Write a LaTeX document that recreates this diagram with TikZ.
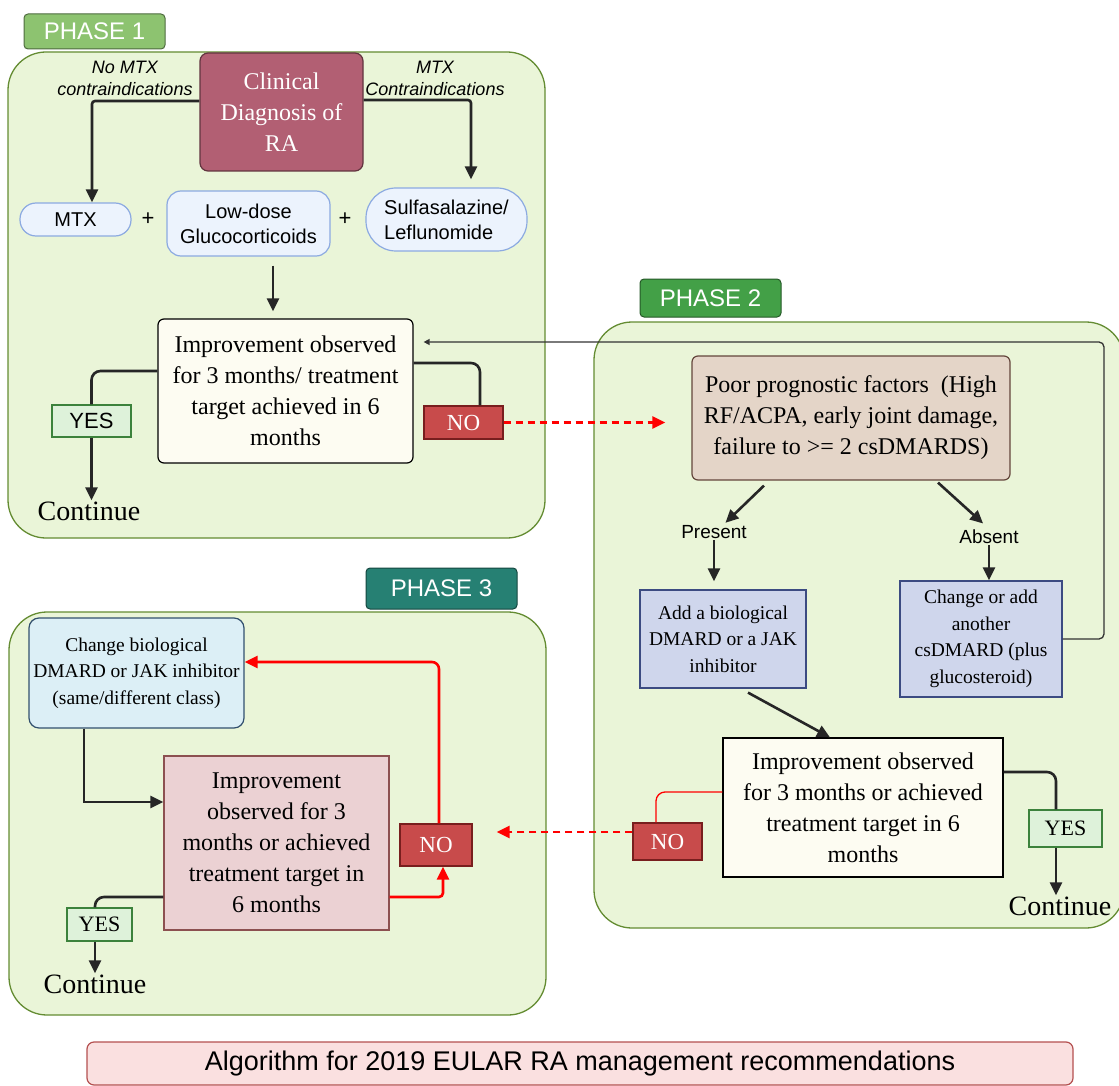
\documentclass[tikz,border=0pt]{standalone}
\usepackage{fontspec}
\setmainfont{Liberation Serif}
\setsansfont{Liberation Sans}
\usepackage{tikz}
\usetikzlibrary{arrows.meta, positioning}
\definecolor{panelfill}{RGB}{234,245,216}
\definecolor{panelline}{RGB}{100,140,50}
\definecolor{phaseone}{RGB}{141,195,112}
\definecolor{phasetwo}{RGB}{67,160,71}
\definecolor{phasethree}{RGB}{38,128,115}
\definecolor{diagcolor}{RGB}{178,95,115}
\definecolor{drugcolor}{RGB}{236,243,253}
\definecolor{drugline}{RGB}{140,170,225}
\definecolor{askcolor}{RGB}{253,252,242}
\definecolor{yescolor}{RGB}{222,242,218}
\definecolor{yesline}{RGB}{60,130,60}
\definecolor{nocolor}{RGB}{200,75,75}
\definecolor{noline}{RGB}{120,30,30}
\definecolor{poorcolor}{RGB}{228,213,200}
\definecolor{poorline}{RGB}{100,70,60}
\definecolor{bdmardcolor}{RGB}{207,214,236}
\definecolor{bdmardline}{RGB}{60,75,130}
\definecolor{switchcolor}{RGB}{220,239,246}
\definecolor{switchline}{RGB}{50,80,110}
\definecolor{retrycolor}{RGB}{235,209,211}
\definecolor{retryline}{RGB}{140,80,80}
\definecolor{titlecolor}{RGB}{250,224,224}
\definecolor{titleline}{RGB}{180,80,80}

\begin{document}
\begin{tikzpicture}[
    x=1pt, y=-1pt,
    panel/.style={draw=panelline, fill=panelfill, line width=1.3pt, rounded corners=38pt},
    phasetab/.style={fill=#1, draw=#1!55!black, line width=1pt, rounded corners=4pt, text=white, font=\sffamily\fontsize{24}{28}\selectfont, inner sep=0pt},
    serifbox/.style={draw, line width=1.2pt, align=center, inner sep=0pt, font=\fontsize{24}{31}\selectfont},
    smallbox/.style={serifbox, font=\fontsize{19.5}{26.5}\selectfont},
    drugbox/.style={draw=drugline, fill=drugcolor, line width=1.2pt, align=center, inner sep=0pt, font=\sffamily\fontsize{20}{25}\selectfont},
    yesbox/.style={draw=yesline, fill=yescolor, line width=1.2pt, inner sep=0pt, font=\fontsize{22}{26}\selectfont},
    nobox/.style={draw=noline, fill=nocolor, line width=1.2pt, inner sep=0pt, text=white, font=\fontsize{23}{26}\selectfont},
    sidenote/.style={font=\sffamily\itshape\fontsize{18}{22}\selectfont, align=center, inner sep=1pt},
    branch/.style={font=\sffamily\fontsize{19}{22}\selectfont, inner sep=1pt},
    goon/.style={font=\fontsize{28}{32}\selectfont, inner sep=1pt},
    flow/.style={line width=2.6pt, black!85},
    arrow/.style={flow, -{Triangle[length=13pt,width=12pt]}},
    thinarrow/.style={line width=1.3pt, black!80, -{Triangle[length=6pt,width=6pt]}},
    redline/.style={line width=1.3pt, red},
    redarrow/.style={line width=2.6pt, red, -{Triangle[length=13pt,width=12pt]}},
    reddash/.style={redarrow, dash pattern=on 7pt off 5pt}
]
    \useasboundingbox (0,0) rectangle (1119,1086);

    \draw[panel] (8,52) rectangle (545,538);
    \draw[panel] (594,322) rectangle (1124,928);
    \draw[panel] (9,612) rectangle (546,1015);

    \node[phasetab=phaseone, minimum width=141pt, minimum height=35pt] (tab1) at (94.5,31.5) {PHASE 1};
    \node[phasetab=phasetwo, minimum width=141pt, minimum height=38pt] (tab2) at (710.5,298) {PHASE 2};
    \node[phasetab=phasethree, minimum width=151pt, minimum height=41pt] (tab3) at (441.5,588.5) {PHASE 3};

    \node[serifbox, fill=diagcolor, draw=diagcolor!55!black, text=white, rounded corners=8pt, minimum width=163pt, minimum height=118pt] (diag) at (281.5,112) {Clinical\\Diagnosis of\\RA};
    \node[sidenote] (nomtx) at (125,78) {No MTX\\contraindications};
    \node[sidenote] (yesmtx) at (435,78) {MTX\\Contraindications};

    \node[drugbox, rounded corners=16pt, minimum width=111pt, minimum height=33pt] (mtx) at (75.5,219.5) {MTX};
    \node[font=\sffamily\fontsize{22}{24}\selectfont] (plusa) at (148,219) {+};
    \node[drugbox, rounded corners=14pt, minimum width=163pt, minimum height=65pt] (lowdose) at (248.5,223.5) {Low-dose\\Glucocorticoids};
    \node[font=\sffamily\fontsize{22}{24}\selectfont] (plusb) at (345,219) {+};
    \node[drugbox, align=left, rounded corners=30pt, minimum width=161pt, minimum height=63pt] (sulfa) at (446.5,219.5) {Sulfasalazine/\\Leflunomide};

    \node[serifbox, fill=askcolor, rounded corners=6pt, minimum width=255pt, minimum height=144pt] (imp1) at (285.5,391) {Improvement observed\\for 3 months/ treatment\\target achieved in 6\\months};
    \node[yesbox, font=\sffamily\fontsize{22}{26}\selectfont, minimum width=79pt, minimum height=32pt] (yes1) at (91.5,421) {YES};
    \node[nobox, minimum width=79pt, minimum height=33pt] (no1) at (463.5,422.5) {NO};
    \node[goon] (cont1) at (89,511) {Continue};

    \node[serifbox, fill=poorcolor, draw=poorline, rounded corners=6pt, minimum width=318pt, minimum height=124pt] (poor) at (851,418) {Poor prognostic factors~ (High\\RF/ACPA, early joint damage,\\failure to >= 2 csDMARDS)};
    \node[branch] (present) at (714,532) {Present};
    \node[branch] (absent) at (989,537) {Absent};
    \node[smallbox, fill=bdmardcolor, draw=bdmardline, minimum width=166pt, minimum height=98pt] (addbio) at (723,639) {Add a biological\\DMARD or a JAK\\inhibitor};
    \node[smallbox, fill=bdmardcolor, draw=bdmardline, minimum width=162pt, minimum height=116pt] (chg) at (981,639) {Change or add\\another\\csDMARD (plus\\glucosteroid)};
    \node[serifbox, fill=askcolor, minimum width=280pt, minimum height=139pt] (imp2) at (863,807.5) {Improvement observed\\for 3 months or achieved\\treatment target in 6\\months};
    \node[yesbox, minimum width=73pt, minimum height=37pt] (yes2) at (1065.5,828.5) {YES};
    \node[nobox, minimum width=69pt, minimum height=37pt] (no2) at (667.5,841.5) {NO};
    \node[goon] (cont2) at (1060,906) {Continue};

    \node[smallbox, fill=switchcolor, draw=switchline, rounded corners=10pt, minimum width=215pt, minimum height=110pt] (chgbio) at (136.5,673) {Change biological\\DMARD or JAK inhibitor\\(same/different class)};
    \node[serifbox, fill=retrycolor, draw=retryline, minimum width=225pt, minimum height=174pt] (imp3) at (276.5,843) {Improvement\\observed for 3\\months or achieved\\treatment target in\\6 months};
    \node[nobox, minimum width=72pt, minimum height=42pt] (no3) at (436,845) {NO};
    \node[yesbox, minimum width=65pt, minimum height=33pt] (yes3) at (99.5,924.5) {YES};
    \node[goon] (cont3) at (95,984) {Continue};

    \node[draw=titleline, fill=titlecolor, rounded corners=7pt, line width=1.2pt, minimum width=986pt, minimum height=43pt, font=\sffamily\fontsize{27}{30}\selectfont] (title) at (580,1063.5) {Algorithm for 2019 EULAR RA management recommendations};

    \coordinate (ld) at ([xshift=-12.5pt]imp1.north);
    \coordinate (fbturn) at (1104,342);
    \coordinate (no2in) at ([yshift=9.5pt]no2.west);
    \coordinate (yes2out) at ([xshift=-9.5pt]yes2.south);
    \coordinate (yes3out) at ([xshift=-4.5pt]yes3.south);

    \draw[arrow, rounded corners=3pt] ([yshift=11pt]diag.west) -| ([xshift=16.5pt]mtx.north);
    \draw[arrow, rounded corners=3pt, shorten >=8pt] ([yshift=12pt]diag.east) -| ([xshift=24.5pt]sulfa.north);
    \draw[arrow, shorten <=9pt, shorten >=7pt] (lowdose.south -| ld) -- (ld);
    \draw[flow, rounded corners=9pt] ([yshift=20pt]imp1.west) -| (yes1.north);
    \draw[arrow] (yes1.south) -- (yes1.south |- cont1.north);
    \draw[flow, rounded corners=9pt] ([yshift=28pt]imp1.east) -| ([xshift=16.5pt]no1.north);
    \draw[reddash, shorten >=26pt] (no1.east) -- (no1.east -| poor.west);

    \draw[thinarrow, rounded corners=5pt] (chg.east) -| (fbturn) -- ([xshift=10pt,yshift=49pt]imp1.east);
    \draw[arrow, shorten >=2pt] ([xshift=-87pt,yshift=-5pt]poor.south) -- ([xshift=10pt]present.north);
    \draw[arrow, shorten >=8pt] ([xshift=87pt,yshift=-2pt]poor.south) -- (absent.north);
    \draw[arrow, shorten >=8pt] (present.south) -- (present.south |- addbio.north);
    \draw[arrow] (absent.south) -- (absent.south |- chg.north);
    \draw[arrow] ([xshift=25pt,yshift=-4pt]addbio.south) -- ([xshift=-33pt]imp2.north);
    \draw[flow, rounded corners=9pt] ([yshift=35.5pt]imp2.east) -| ([xshift=-9.5pt]yes2.north);
    \draw[arrow] (yes2out) -- (yes2out |- cont2.north);
    \draw[redline, rounded corners=9pt] ([yshift=15.5pt]imp2.west) -| ([xshift=-11.5pt]no2.north);
    \draw[reddash, shorten >=24pt] (no2in) -- (no2in -| no3.east);

    \draw[arrow] ([xshift=-52.5pt]chgbio.south) |- ([yshift=41pt]imp3.west);
    \draw[redarrow, rounded corners=4pt] ([yshift=-54pt]imp3.east) -| ([xshift=7pt]no3.south);
    \draw[redarrow, rounded corners=7pt] ([xshift=3pt]no3.north) |- ([yshift=11pt]chgbio.east);
    \draw[flow, rounded corners=9pt] ([yshift=-54pt]imp3.west) -| (yes3out |- yes3.north);
    \draw[arrow] (yes3out) -- (yes3out |- cont3.north);
\end{tikzpicture}
\end{document}
